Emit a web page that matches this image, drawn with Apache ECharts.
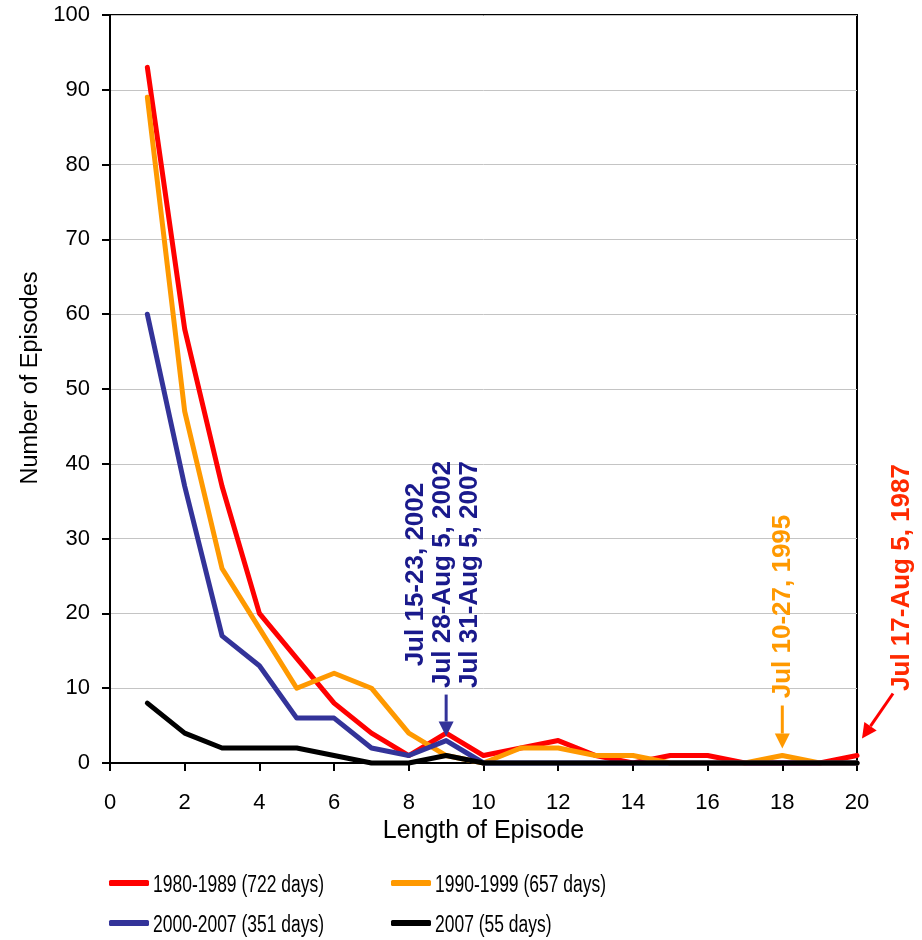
<!DOCTYPE html>
<html>
<head>
<meta charset="utf-8">
<title>Episode length distribution</title>
<script src="https://cdn.jsdelivr.net/npm/echarts@6/dist/echarts.min.js"></script>
<style>
  html, body { margin: 0; padding: 0; background: #ffffff; }
  #chart { width: 922px; height: 940px; }
</style>
</head>
<body>
<div id="chart"></div>
<script>
// Length of episode (days)
const episodeLength = [1, 2, 3, 4, 5, 6, 7, 8, 9, 10, 11, 12, 13, 14, 15, 16, 17, 18, 19, 20];

// Number of episodes for each length, per period
const episodes1980s = [93, 58, 37, 20, 14, 8, 4, 1, 4, 1, 2, 3, 1, 0, 1, 1, 0, 0, 0, 1];
const episodes1990s = [89, 47, 26, 18, 10, 12, 10, 4, 1, 0, 2, 2, 1, 1, 0, 0, 0, 1, 0, 0];
const episodes2000s = [60, 37, 17, 13, 6, 6, 2, 1, 3, 0, 0, 0, 0, 0, 0, 0, 0, 0, 0, 0];
const episodes2007 = [8, 4, 2, 2, 2, 1, 0, 0, 1, 0, 0, 0, 0, 0, 0, 0, 0, 0, 0, 0];

const seriesNames = [
  '1980-1989 (722 days)',
  '1990-1999 (657 days)',
  '2000-2007 (351 days)',
  '2007 (55 days)'
];
const seriesColors = ['#ff0000', '#ff9900', '#333399', '#000000'];

// Callouts naming the longest episodes: [length, count, label text]
const calloutBlue = [9, 3, 'Jul 15-23, 2002\nJul 28-Aug 5, 2002\nJul 31-Aug 5, 2007'];
const calloutOrange = [18, 1, 'Jul 10-27, 1995'];
const calloutRed = [20, 1, 'Jul 17-Aug 5, 1987'];

const FONT = "'Liberation Sans', Arial, sans-serif";

function pairs(values) {
  return episodeLength.map((x, i) => [x, values[i]]);
}

const chart = echarts.init(document.getElementById('chart'), null, { renderer: 'canvas' });

const allValues = [episodes1980s, episodes1990s, episodes2000s, episodes2007];

const series = allValues.map((vals, i) => ({
  name: seriesNames[i],
  type: 'line',
  data: pairs(vals),
  showSymbol: false,
  symbol: 'none',
  clip: false,
  z: 3 + i,
  lineStyle: { color: seriesColors[i], width: 5, cap: 'round', join: 'round' },
  itemStyle: { color: seriesColors[i] }
}));

// legend swatches in two columns; the captions are set in a condensed face below
const legendPos = [
  { left: 109, top: 880 },
  { left: 391, top: 880 },
  { left: 109, top: 920 },
  { left: 391, top: 920 }
];
const legends = seriesNames.map((name, i) => ({
  data: [name],
  left: legendPos[i].left,
  top: legendPos[i].top,
  icon: 'roundRect',
  itemWidth: 40,
  itemHeight: 6,
  itemGap: 0,
  padding: 0,
  selectedMode: false,
  formatter: () => '',
  textStyle: { fontSize: 1, padding: 0 }
}));

chart.setOption({
  animation: false,
  backgroundColor: '#ffffff',
  grid: {
    left: 110, right: 65, top: 15, bottom: 177,
    show: true, borderColor: '#000', borderWidth: 2, backgroundColor: 'transparent'
  },
  legend: legends,
  xAxis: {
    type: 'value',
    min: 0, max: 20, interval: 2,
    name: 'Length of Episode',
    nameLocation: 'middle',
    nameGap: 56,
    nameTextStyle: { fontFamily: FONT, fontSize: 25, color: '#000' },
    axisLine: { show: true, lineStyle: { color: '#000', width: 2 } },
    axisTick: { show: true, length: 8, lineStyle: { color: '#000', width: 2 } },
    axisLabel: { fontFamily: FONT, fontSize: 22, color: '#000', margin: 29 },
    splitLine: { show: false }
  },
  yAxis: {
    type: 'value',
    min: 0, max: 100, interval: 10,
    name: 'Number of Episodes',
    nameLocation: 'middle',
    nameGap: 63,
    nameRotate: 90,
    nameTextStyle: { fontFamily: FONT, fontSize: 23.5, color: '#000', padding: [0, 0, 0, 22] },
    axisLine: { show: true, lineStyle: { color: '#000', width: 2 } },
    axisTick: { show: true, length: 8, lineStyle: { color: '#000', width: 2 } },
    axisLabel: { fontFamily: FONT, fontSize: 22, color: '#000', margin: 20 },
    splitLine: { show: true, lineStyle: { color: '#c4c4c4', width: 1 } }
  },
  series: series
});

// Arrow drawn from (x1,y1) to tip (x2,y2)
function arrow(x1, y1, x2, y2, color) {
  const dx = x2 - x1, dy = y2 - y1;
  const len = Math.sqrt(dx * dx + dy * dy);
  const ux = dx / len, uy = dy / len;
  const headLen = 15, headHalf = 7.5;
  const bx = x2 - ux * headLen, by = y2 - uy * headLen;
  const px = -uy, py = ux;
  return [
    {
      type: 'line', z: 20,
      shape: { x1: x1, y1: y1, x2: bx, y2: by },
      style: { stroke: color, lineWidth: 3 }
    },
    {
      type: 'polygon', z: 20,
      shape: { points: [[x2, y2], [bx + px * headHalf, by + py * headHalf], [bx - px * headHalf, by - py * headHalf]] },
      style: { fill: color }
    }
  ];
}

function vText(cx, cy, text, color) {
  return {
    type: 'text', z: 20,
    x: cx, y: cy,
    rotation: Math.PI / 2,
    style: {
      text: text,
      fill: color,
      font: "bold 26px " + FONT,
      lineHeight: 27,
      align: 'center',
      verticalAlign: 'middle'
    }
  };
}

const toPx = (p) => chart.convertToPixel({ gridIndex: 0 }, p);

const graphics = [];

// 2000-2007 / 2007 callout at length 9
{
  const p = toPx([calloutBlue[0], calloutBlue[1]]);
  const tipY = p[1] - 4;
  const topY = tipY - 42;
  graphics.push(...arrow(p[0], topY, p[0], tipY, '#333399'));
  graphics.push(vText(p[0] - 3, topY - 5 - 115, calloutBlue[2], '#1a1a8c'));
}
// 1990-1999 callout at length 18
{
  const p = toPx([calloutOrange[0], calloutOrange[1]]);
  const tipY = p[1] - 7;
  const topY = tipY - 43;
  graphics.push(...arrow(p[0], topY, p[0], tipY, '#ff9900'));
  graphics.push(vText(p[0] + 1, topY - 8 - 91, calloutOrange[2], '#ff9900'));
}
// 1980-1989 callout at length 20, placed outside the plot
{
  const p = toPx([calloutRed[0], calloutRed[1]]);
  const tip = [p[0] + 5, p[1] - 17];
  const start = [tip[0] + 31, tip[1] - 45];
  graphics.push(...arrow(start[0], start[1], tip[0], tip[1], '#ff0000'));
  graphics.push(vText(start[0] + 9, start[1] - 1 - 115, calloutRed[2], '#ff2a00'));
}

// legend captions, horizontally condensed
legendPos.forEach((pos, i) => {
  graphics.push({
    type: 'text', z: 20,
    x: pos.left + 44, y: pos.top + 6,
    scaleX: 0.76,
    style: {
      text: seriesNames[i],
      fill: '#000',
      font: "23px " + FONT,
      align: 'left',
      verticalAlign: 'middle'
    }
  });
});

chart.setOption({ graphic: graphics });
</script>
</body>
</html>
